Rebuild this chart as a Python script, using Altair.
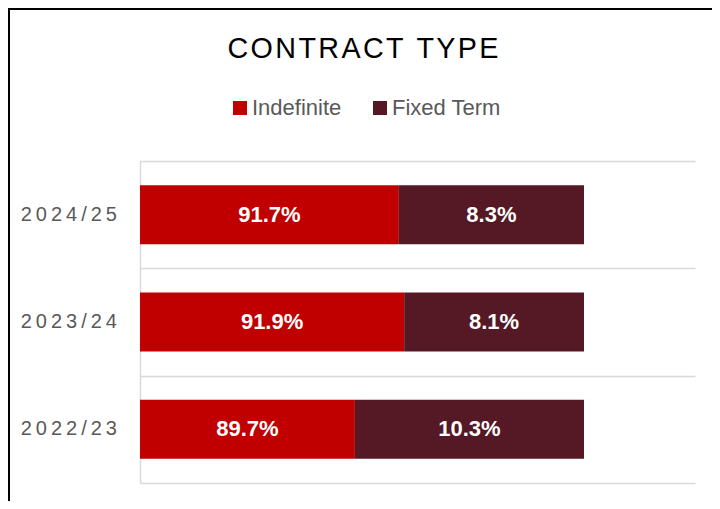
import altair as alt
import pandas as pd

# ---- data ----
years = ["2024/25", "2023/24", "2022/23"]
contract_types = ["Indefinite", "Fixed Term"]
# visible segment lengths (share of the full bar, as drawn in the reference)
indefinite_len = [58.3, 59.5, 48.4]
fixed_len = [41.7, 40.5, 51.6]
# printed labels
indefinite_labels = ["91.7%", "91.9%", "89.7%"]
fixed_labels = ["8.3%", "8.1%", "10.3%"]
colors = ["#C00000", "#541924"]
chart_title = ["CONTRACT TYPE"]

rows = []
for i, yr in enumerate(years):
    rows.append(dict(year=yr, type=contract_types[0], ord=0,
                     length=indefinite_len[i], label=indefinite_labels[i]))
    rows.append(dict(year=yr, type=contract_types[1], ord=1,
                     length=fixed_len[i], label=fixed_labels[i]))
df = pd.DataFrame(rows)

FONT = "Liberation Sans"
GRID = "#D9D9D9"

x_scale = alt.Scale(domain=[0, 125], nice=False, zero=True)
y_axis = alt.Axis(title=None, labels=False, ticks=False, domain=True,
                  domainColor=GRID, domainWidth=1.5, grid=True,
                  gridColor=GRID, gridWidth=1.5, tickBand="extent")
y_scale = alt.Scale(paddingInner=0, paddingOuter=0)


def Y():
    return alt.Y("year:N", sort=years, scale=y_scale, axis=y_axis)


bars = alt.Chart(df).mark_bar(height=alt.RelativeBandSize(band=0.55)).encode(
    x=alt.X("length:Q", stack="zero", scale=x_scale, axis=None),
    y=Y(),
    color=alt.Color(
        "type:N",
        scale=alt.Scale(domain=contract_types, range=colors),
        legend=alt.Legend(orient="none", legendX=89, legendY=-64,
                          direction="horizontal", title=None,
                          symbolType="square", symbolSize=196,
                          symbolStrokeWidth=0, labelFontSize=22,
                          labelColor="#595959", labelFont=FONT,
                          labelOffset=1, columnPadding=27, padding=0),
    ),
    order=alt.Order("ord:Q"),
)

labels = alt.Chart(df).transform_stack(
    stack="length", groupby=["year"], as_=["x0", "x1"],
    sort=[alt.SortField("ord")],
).transform_calculate(
    mid="(datum.x0 + datum.x1) / 2"
).mark_text(color="white", fontWeight="bold", fontSize=22, font=FONT,
            baseline="middle", align="center").encode(
    x=alt.X("mid:Q", scale=x_scale, axis=None),
    y=Y(),
    text="label:N",
)

# letter-spaced display versions (thin / hair spaces between characters)
ylabels = alt.Chart(pd.DataFrame({"year": years})).transform_calculate(
    shown="join(split(datum.year, ''), '\u2009')"
).mark_text(
    align="right", baseline="middle", fontSize=20,
    color="#595959", font=FONT,
).encode(
    x=alt.value(-23),
    y=Y(),
    text="shown:N",
)

title = alt.Chart(pd.DataFrame({"t": chart_title})).transform_calculate(
    shown="join(split(datum.t, ''), '\u200a')"
).mark_text(
    align="center", baseline="alphabetic", fontSize=28.7,
    color="black", font=FONT,
).encode(x=alt.value(223), y=alt.value(-103), text="shown:N")

frame_left = alt.Chart(pd.DataFrame({"k": [0]})).mark_rule(
    color="black", strokeWidth=2
).encode(x=alt.value(-131), y=alt.value(-152), y2=alt.value(340))
frame_top = alt.Chart(pd.DataFrame({"k": [0]})).mark_rule(
    color="black", strokeWidth=2
).encode(x=alt.value(-132), x2=alt.value(572), y=alt.value(-152))

chart = alt.layer(bars, labels, ylabels, title, frame_left, frame_top).properties(
    width=555,
    height=322,
    autosize=alt.AutoSizeParams(type="none"),
    padding={"left": 132, "top": 153, "right": 17, "bottom": 18},
    background="white",
).configure_view(stroke=None)

chart.save("out.html", embed_options={"renderer": "svg", "actions": False})
